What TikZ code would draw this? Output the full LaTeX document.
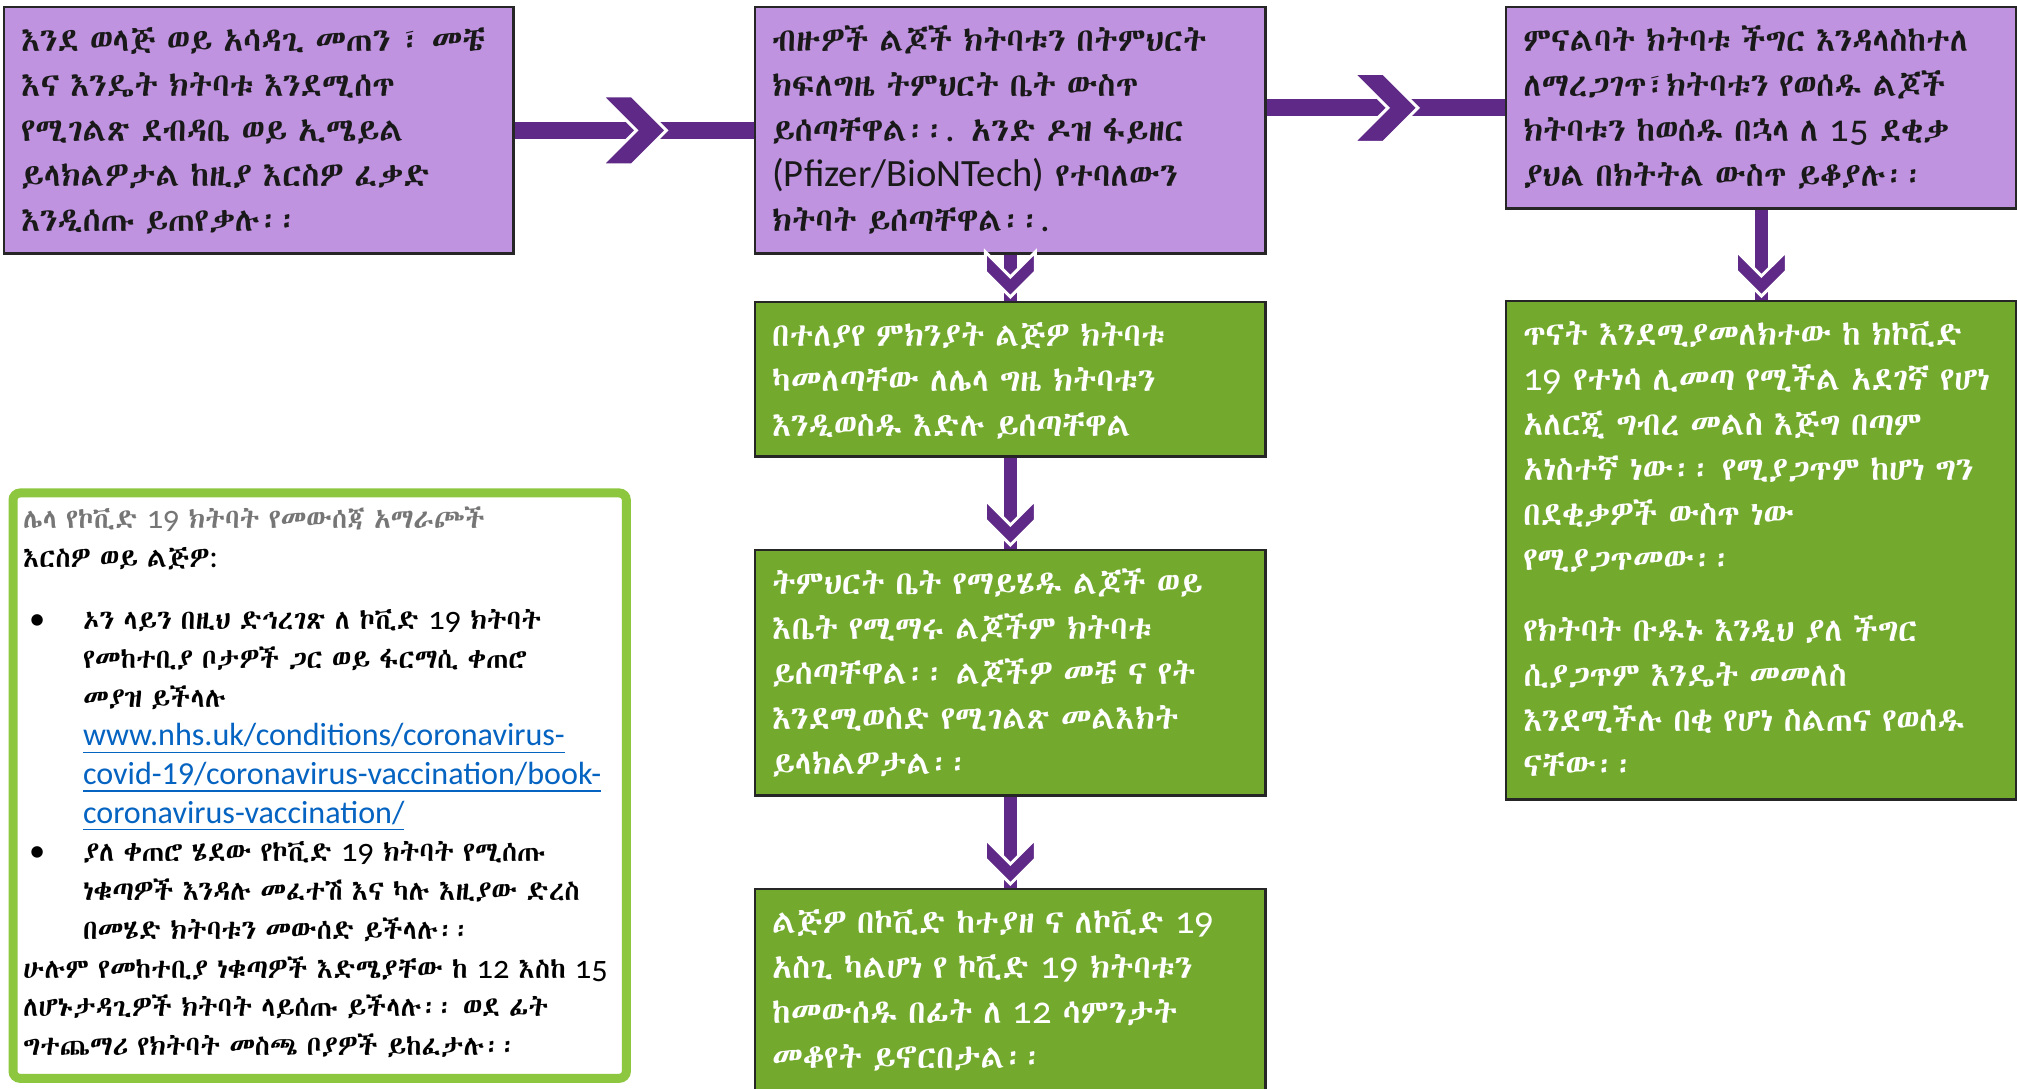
\documentclass[tikz,border=0pt]{standalone}
\usepackage{fontspec}
\IfFontExistsTF{Abyssinica SIL}{\setmainfont{Abyssinica SIL}}{%
  \IfFontExistsTF{FreeSerif}{\setmainfont{FreeSerif}}{%
    \IfFontExistsTF{Unifont}{\setmainfont{Unifont}}{\setmainfont{Noto Sans}}}}
\newfontfamily\latfont{Carlito}[Numbers=OldStyle,Scale=1.18]
\newfontfamily\urlfont{Carlito}[Scale=1.17]
\usetikzlibrary{positioning,decorations.markings}

\definecolor{boxpurple}{RGB}{191,147,224}
\definecolor{flowpurple}{RGB}{94,41,135}
\definecolor{boxgreen}{RGB}{115,169,45}
\definecolor{notegreen}{RGB}{141,198,63}
\definecolor{notegray}{RGB}{118,118,118}
\definecolor{linkblue}{RGB}{5,99,193}

\newcommand\boxfont{\fontsize{9.3pt}{12.8pt}\selectfont}
\newcommand\notefont{\fontsize{7.8pt}{11pt}\selectfont}
\newcommand\latn[1]{{\latfont #1}}
\newcommand\urlline[1]{{\color{linkblue}\urlfont\underline{#1}}}
\newcommand\bul{\hspace*{0.06cm}\makebox[0.54cm][l]{\latn{\textbullet}}}
\newcommand\ind{\hspace*{0.6cm}}
% chevron: half width, arm, tip offset
\newcommand\flowchev[3]{\filldraw[fill=flowpurple,draw=white,line width=0.03cm]
  (#3,0) -- ++(-#1,#1) -- ++(-#2,0) -- ++(#1,-#1) -- ++(-#1,-#1) -- ++(#2,0) -- cycle;}

\tikzset{
stepbox/.style={draw=black!85, line width=0.7pt, anchor=north west, align=left,
  inner xsep=0.17cm, inner ysep=0.1cm, text height=0.34cm, font=\boxfont},
purplebox/.style={stepbox, fill=boxpurple, text=black!90},
greenbox/.style={stepbox, fill=boxgreen, text=white},
notebox/.style={draw=notegreen, line width=0.09cm, fill=white, rounded corners=2pt,
  anchor=north west, align=left, inner xsep=0.1cm, inner ysep=0.1cm,
  text height=0.255cm, font=\notefont},
flowright/.style={draw=flowpurple, line width=0.17cm,
  postaction={decorate, decoration={markings,
    mark=at position 0.5 with {\flowchev{34.5}{30}{32}}}}},
flowdown/.style={draw=flowpurple, line width=0.125cm,
  postaction={decorate, decoration={markings,
    mark=at position -0.04cm with {\flowchev{25}{20}{0}}}}}
}

\begin{document}
\begin{tikzpicture}[x=0.01cm,y=-0.01cm]
\useasboundingbox (0,0) rectangle (2017,1089);

% top row
\node[purplebox, text width=4.75cm, text depth=1.92cm] (invite) at (3,6)
  {እንደ ወላጅ ወይ አሳዳጊ መጠን ፣ መቼ\\
   እና እንዴት ክትባቱ እንደሚሰጥ\\
   የሚገልጽ ደብዳቤ ወይ ኢሜይል\\
   ይላክልዎታል ከዚያ እርስዎ ፈቃድ\\
   እንዲሰጡ ይጠየቃሉ፡፡};
\node[purplebox, text width=4.76cm, text depth=1.92cm] (school) at (754,6)
  {ብዙዎች ልጆች ክትባቱን በትምህርት\\
   ክፍለግዜ ትምህርት ቤት ውስጥ\\
   ይሰጣቸዋል፡፡\latn{.} አንድ ዶዝ ፋይዘር\\
   \latn{(Pfizer/BioNTech)} የተባለውን\\
   ክትባት ይሰጣቸዋል፡፡\latn{.}};
\node[purplebox, text width=4.76cm, text depth=1.47cm] (observe) at (1505,6)
  {ምናልባት ክትባቱ ችግር እንዳላስከተለ\\
   ለማረጋገጥ፣ክትባቱን የወሰዱ ልጆች\\
   ክትባቱን ከወሰዱ በኋላ ለ \latn{15} ደቂቃ\\
   ያህል በክትትል ውስጥ ይቆያሉ፡፡};

% middle column
\node[greenbox, text width=4.76cm, text depth=1.00cm] (missed) at (754,301)
  {በተለያየ ምክንያት ልጅዎ ክትባቱ\\
   ካመለጣቸው ለሌላ ግዜ ክትባቱን\\
   እንዲወስዱ እድሉ ይሰጣቸዋል};
\node[greenbox, text width=4.76cm, text depth=1.91cm] (homeschool) at (754,549)
  {ትምህርት ቤት የማይሄዱ ልጆች ወይ\\
   እቤት የሚማሩ ልጆችም ክትባቱ\\
   ይሰጣቸዋል፡፡ ልጆችዎ መቼ ና የት\\
   እንደሚወስድ የሚገልጽ መልእክት\\
   ይላክልዎታል፡፡};
\node[greenbox, text width=4.76cm, text depth=1.47cm] (infected) at (754,888)
  {ልጅዎ በኮቪድ ከተያዘ ና ለኮቪድ \latn{19}\\
   አስጊ ካልሆነ የ ኮቪድ \latn{19} ክትባቱን\\
   ከመውሰዱ በፊት ለ \latn{12} ሳምንታት\\
   መቆየት ይኖርበታል፡፡};

% right column
\node[greenbox, text width=4.76cm, text depth=4.44cm] (allergy) at (1505,300)
  {ጥናት እንደሚያመለክተው ከ ክኮቪድ\\
   \latn{19} የተነሳ ሊመጣ የሚችል አደገኛ የሆነ\\
   አለርጂ ግብረ መልስ እጅግ በጣም\\
   አነስተኛ ነው፡፡ የሚያጋጥም ከሆነ ግን\\
   በደቂቃዎች ውስጥ ነው\\
   የሚያጋጥመው፡፡\\[0.26cm]
   የክትባት ቡዱኑ እንዲህ ያለ ችግር\\
   ሲያጋጥም እንዴት መመለስ\\
   እንደሚችሉ በቂ የሆነ ስልጠና የወሰዱ\\
   ናቸው፡፡};

% other options
\node[notebox, text width=5.93cm, text depth=5.395cm] (options) at (8.5,488.5)
  {{\color{notegray}ሌላ የኮቪድ \latn{19} ክትባት የመውሰጃ አማራጮች}\\
   እርስዎ ወይ ልጅዎ\latn{:}\\[0.24cm]
   \bul ኦን ላይን በዚህ ድኅረገጽ ለ ኮቪድ \latn{19} ክትባት\\
   \ind የመከተቢያ ቦታዎች ጋር ወይ ፋርማሲ ቀጠሮ\\
   \ind መያዝ ይችላሉ\\
   \ind\urlline{www.nhs.uk/conditions/coronavirus-}\\
   \ind\urlline{covid-19/coronavirus-vaccination/book-}\\
   \ind\urlline{coronavirus-vaccination/}\\
   \bul ያለ ቀጠሮ ሄደው የኮቪድ \latn{19} ክትባት የሚሰጡ\\
   \ind ነቁጣዎች እንዳሉ መፈተሽ እና ካሉ እዚያው ድረስ\\
   \ind በመሄድ ክትባቱን መውሰድ ይችላሉ፡፡\\
   ሁሉም የመከተቢያ ነቁጣዎች እድሜያቸው ከ \latn{12} እስከ \latn{15}\\
   ለሆኑታዳጊዎች ክትባት ላይሰጡ ይችላሉ፡፡ ወደ ፊት\\
   ግተጨማሪ የክትባት መስጫ ቦያዎች ይከፈታሉ፡፡};

% arrows
\draw[flowright] (invite) -- (school);
\draw[flowright] (observe.west -| school.east) -- (observe.west);
\draw[flowdown] (school) -- (missed);
\draw[flowdown] (missed) -- (homeschool);
\draw[flowdown] (homeschool) -- (infected);
\draw[flowdown] (observe) -- (allergy);
\end{tikzpicture}
\end{document}
